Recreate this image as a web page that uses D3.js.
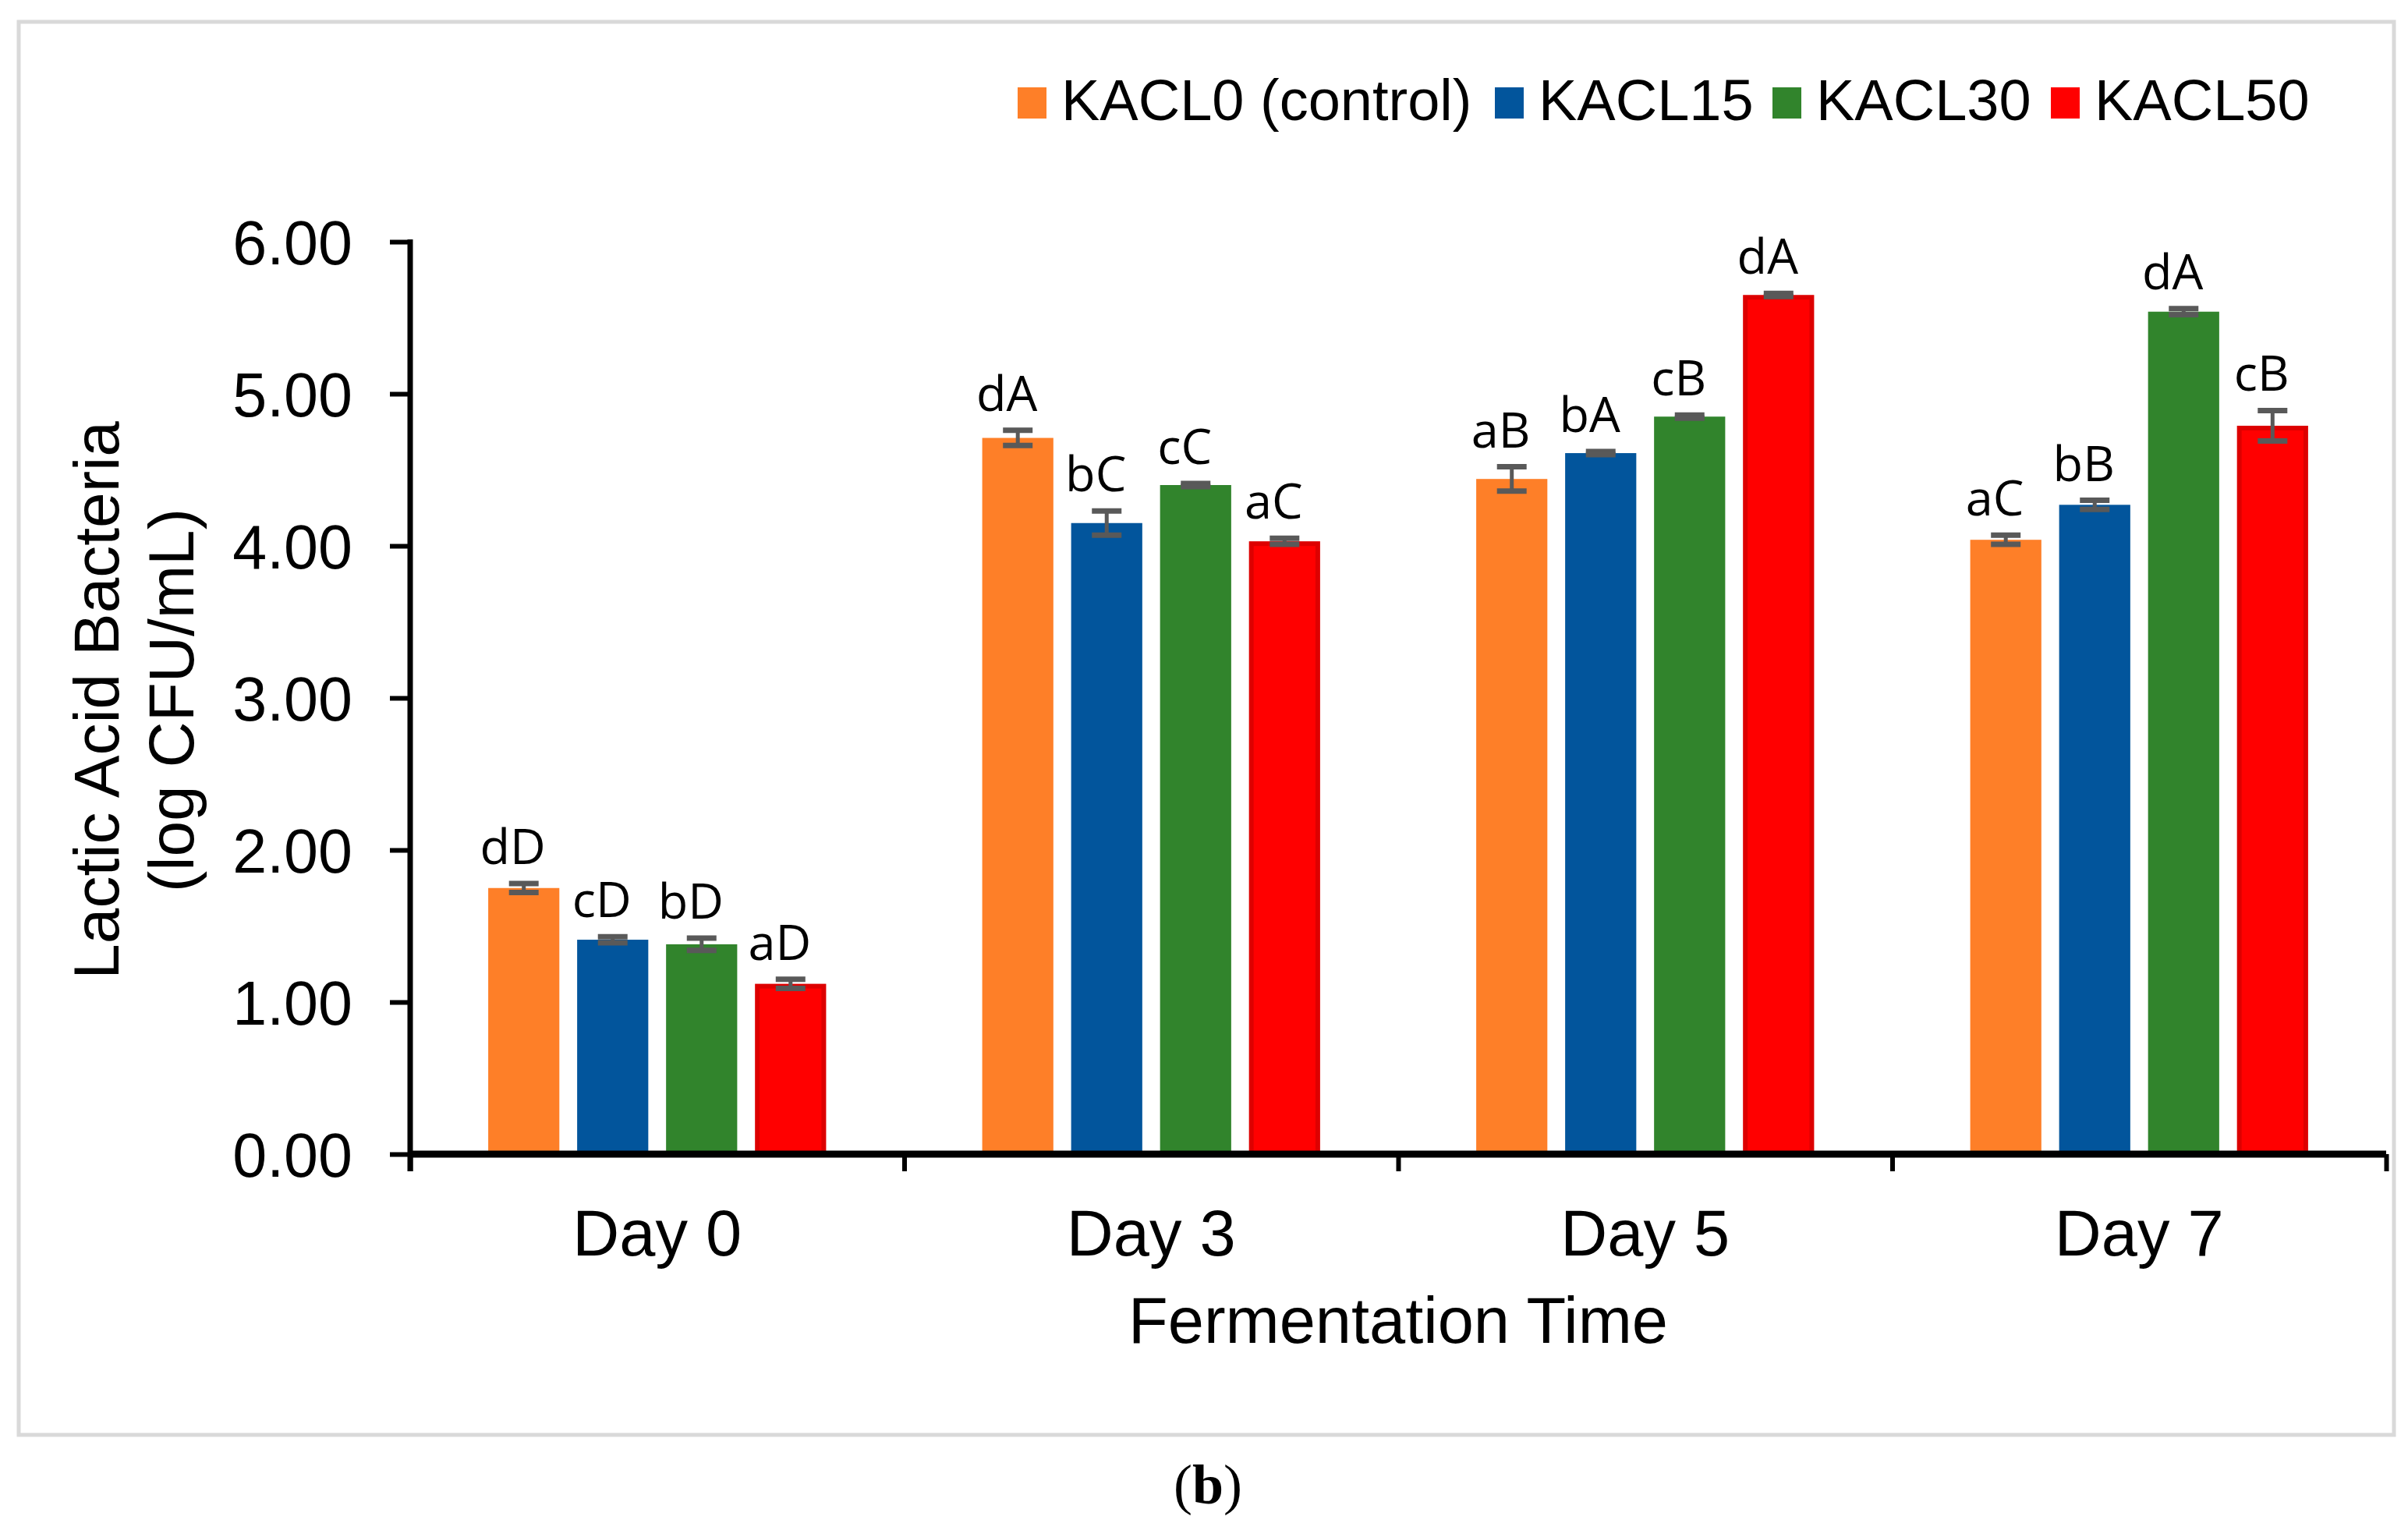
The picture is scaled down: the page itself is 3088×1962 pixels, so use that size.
<!DOCTYPE html>
<html>
<head>
<meta charset="utf-8">
<script src="https://cdn.jsdelivr.net/npm/d3@7"></script>
<style>
  body { margin: 0; background: #fff; }
  text { font-family: "Liberation Sans", Arial, sans-serif; }
</style>
</head>
<body>
<svg id="chart"></svg>
<script>
// data
var days = ["Day 0", "Day 3", "Day 5", "Day 7"];
var series = ["KACL0 (control)", "KACL15", "KACL30", "KACL50"];
var colors = ["#FE7F28", "#02559C", "#31842C", "#FF0000"];

var kacl0  = [1.75, 4.71, 4.44, 4.04];
var kacl15 = [1.41, 4.15, 4.61, 4.27];
var kacl30 = [1.38, 4.40, 4.85, 5.54];
var kacl50 = [1.12, 4.03, 5.65, 4.79];

var err0  = [0.03, 0.05, 0.08, 0.03];
var err15 = [0.02, 0.08, 0.01, 0.03];
var err30 = [0.04, 0.01, 0.01, 0.02];
var err50 = [0.03, 0.02, 0.01, 0.10];

var lab0  = ["dD", "dA", "aB", "aC"];
var lab15 = ["cD", "bC", "bA", "bB"];
var lab30 = ["bD", "cC", "cB", "dA"];
var lab50 = ["aD", "aC", "dA", "cB"];

var yTicks = [0, 1, 2, 3, 4, 5, 6];

var W = 3088, H = 1962;
var svg = d3.select("#chart").attr("width", W).attr("height", H);

// outer frame
svg.append("rect")
  .attr("x", 24).attr("y", 28).attr("width", 3046).attr("height", 1812)
  .attr("fill", "none").attr("stroke", "#D9D9D9").attr("stroke-width", 5);

var mLeft = 526, mRight = 3060, mTop = 310, mBottom = 1480;

var y = d3.scaleLinear().domain([0, 6]).range([mBottom, mTop]);
var x0 = d3.scaleBand().domain(days).range([mLeft, mRight]).padding(0);
var groupW = x0.bandwidth() * 0.684;
var x1 = d3.scaleBand().domain(series).range([0, groupW]).paddingInner(0.2).paddingOuter(0);

var values = [kacl0, kacl15, kacl30, kacl50];
var errs = [err0, err15, err30, err50];
var labs = [lab0, lab15, lab30, lab50];

var rows = [];
days.forEach(function(d, i) {
  series.forEach(function(s, j) {
    rows.push({ day: d, s: s, j: j, v: values[j][i], e: errs[j][i], lab: labs[j][i] });
  });
});

function barX(d) {
  return x0(d.day) + (x0.bandwidth() - groupW) / 2 + x1(d.s);
}

// bars (red ones carry a darker outline)
var bars = svg.append("g");
bars.selectAll("rect")
  .data(rows)
  .enter().append("rect")
  .attr("x", function(d) { return d.j === 3 ? barX(d) + 3 : barX(d); })
  .attr("y", function(d) { return d.j === 3 ? y(d.v) + 3 : y(d.v); })
  .attr("width", function(d) { return d.j === 3 ? x1.bandwidth() - 6 : x1.bandwidth(); })
  .attr("height", function(d) { return d.j === 3 ? y(0) - y(d.v) - 3 : y(0) - y(d.v); })
  .attr("fill", function(d) { return colors[d.j]; })
  .attr("stroke", function(d) { return d.j === 3 ? "#DD0000" : "none"; })
  .attr("stroke-width", 6);

// error bars
var eb = svg.append("g").attr("stroke", "#595959");
var capW = 38;
rows.forEach(function(d) {
  var cx = barX(d) + x1.bandwidth() / 2;
  eb.append("line")
    .attr("x1", cx).attr("x2", cx)
    .attr("y1", y(d.v + d.e)).attr("y2", y(d.v - d.e))
    .attr("stroke-width", 5);
  [d.v + d.e, d.v - d.e].forEach(function(v) {
    eb.append("line")
      .attr("x1", cx - capW / 2).attr("x2", cx + capW / 2)
      .attr("y1", y(v)).attr("y2", y(v))
      .attr("stroke-width", 7);
  });
});

// significance letters
svg.append("g").selectAll("text")
  .data(rows)
  .enter().append("text")
  .attr("x", function(d) { return barX(d) + x1.bandwidth() / 2 - 14; })
  .attr("y", function(d) { return y(d.v + d.e) - 25; })
  .attr("text-anchor", "middle")
  .style("font-family", "'Open Sans', sans-serif")
  .style("font-size", "63px")
  .text(function(d) { return d.lab; });

// y axis
var yAxis = svg.append("g")
  .attr("transform", "translate(" + mLeft + ",0)")
  .call(d3.axisLeft(y).tickValues(yTicks).tickFormat(d3.format(".2f")).tickSize(26).tickSizeOuter(0).tickPadding(48));
yAxis.select(".domain").remove();
yAxis.selectAll(".tick line").attr("stroke", "#000").attr("stroke-width", 6);
yAxis.selectAll(".tick text")
  .style("font-size", "79px").attr("fill", "#000").attr("dy", "0.36em");
svg.append("line")
  .attr("x1", mLeft).attr("x2", mLeft).attr("y1", mTop - 3).attr("y2", mBottom + 22)
  .attr("stroke", "#000").attr("stroke-width", 7);

// x axis boundary ticks
var xb = d3.scaleLinear().domain([0, days.length]).range([mLeft, mRight]);
var xAxis = svg.append("g")
  .attr("transform", "translate(0," + mBottom + ")")
  .call(d3.axisBottom(xb).tickValues(d3.range(days.length + 1)).tickFormat("").tickSize(22).tickSizeOuter(0));
xAxis.select(".domain").remove();
xAxis.selectAll(".tick line").attr("stroke", "#000").attr("stroke-width", 6);
svg.append("line")
  .attr("x1", mLeft - 3).attr("x2", mRight).attr("y1", mBottom).attr("y2", mBottom)
  .attr("stroke", "#000").attr("stroke-width", 9);

// category labels
var xLab = svg.append("g")
  .attr("transform", "translate(0," + mBottom + ")")
  .call(d3.axisBottom(x0).tickSize(0).tickPadding(0));
xLab.select(".domain").remove();
xLab.selectAll(".tick text")
  .attr("y", 130).attr("dy", 0)
  .style("font-size", "83px").attr("fill", "#000");

// axis titles
svg.append("text")
  .attr("x", 1793).attr("y", 1722)
  .attr("text-anchor", "middle")
  .style("font-size", "83px")
  .text("Fermentation Time");

var yt = svg.append("text")
  .attr("transform", "translate(152,898) rotate(-90)")
  .attr("text-anchor", "middle")
  .style("font-size", "82px");
yt.append("tspan").attr("x", 0).attr("y", 0).text("Lactic Acid Bacteria");
yt.append("tspan").attr("x", 0).attr("y", 96).text("(log CFU/mL)");

// legend
var legX = [1305, 1917, 2273, 2630];
var leg = svg.append("g");
series.forEach(function(s, j) {
  leg.append("rect")
    .attr("x", legX[j]).attr("y", 112).attr("width", 37).attr("height", 40)
    .attr("fill", colors[j]);
  leg.append("text")
    .attr("x", legX[j] + 56).attr("y", 154)
    .style("font-size", "74px")
    .text(s);
});

// panel label
var pl = svg.append("text")
  .attr("x", 1549).attr("y", 1928)
  .attr("text-anchor", "middle")
  .style("font-family", "'Liberation Serif', 'Times New Roman', serif")
  .style("font-size", "72px");
pl.append("tspan").text("(");
pl.append("tspan").style("font-weight", "bold").text("b");
pl.append("tspan").text(")");
</script>
</body>
</html>
